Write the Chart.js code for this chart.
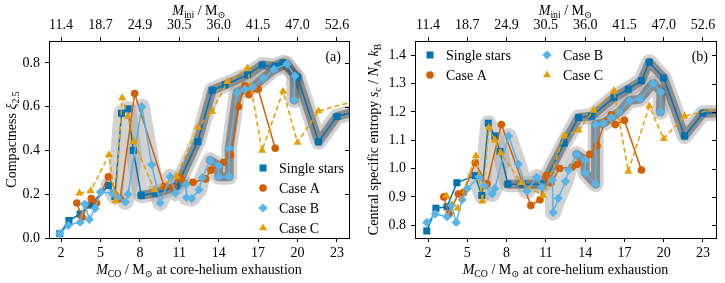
<!DOCTYPE html>
<html>
<head>
<meta charset="utf-8">
<script src="https://cdn.jsdelivr.net/npm/chart.js@4.4.1/dist/chart.umd.min.js"></script>
<style>
    html, body { margin: 0; padding: 0; background: #fff; }
    #wrap { position: relative; width: 725px; height: 283px; }
    .panel { position: absolute; top: 0; height: 283px; }
    #panelA { left: 0; width: 362px; }
    #panelB { left: 362px; width: 363px; }
</style>
</head>
<body>
<div id="wrap">
    <div class="panel" id="panelA"><canvas id="chartA"></canvas></div>
    <div class="panel" id="panelB"><canvas id="chartB"></canvas></div>
</div>
<script>
// bottom axis ticks (M_CO) and the initial masses shown on the top axis
const coTicks = [2, 5, 8, 11, 14, 17, 20, 23];
const iniTickLabels = ["11.4", "18.7", "24.9", "30.5", "36.0", "41.5", "47.0", "52.6"];

// Single stars
const singleCO = [1.9, 2.6, 3.45, 4.2, 5.6, 6.1, 6.6, 7.1, 7.5, 8.1, 9.2, 10.8, 12.4, 13.5, 14.5, 16.2, 17.3, 18.3, 18.9, 20.0, 21.6, 23.0, 25.0];
const singleXi = [0.02, 0.08, 0.11, 0.15, 0.24, 0.19, 0.57, 0.59, 0.40, 0.195, 0.205, 0.235, 0.44, 0.675, 0.70, 0.745, 0.79, 0.785, 0.80, 0.735, 0.44, 0.555, 0.588];
const singleS = [0.78, 0.86, 0.865, 0.95, 0.975, 0.905, 1.16, 1.115, 1.06, 0.945, 0.945, 0.945, 1.09, 1.18, 1.185, 1.25, 1.28, 1.31, 1.375, 1.32, 1.115, 1.195, 1.197];

// Case A
const caseACO = [3.2, 3.6, 4.3, 4.7, 5.6, 6.5, 7.6, 9.85, 10.55, 11.05, 11.4, 12.05, 13.0, 13.4, 14.35, 14.9, 15.5, 16.0, 16.3, 17.0, 18.3];
const caseAXi = [0.16, 0.095, 0.18, 0.16, 0.28, 0.18, 0.66, 0.235, 0.23, 0.275, 0.25, 0.255, 0.27, 0.31, 0.345, 0.38, 0.60, 0.695, 0.655, 0.68, 0.41];
const caseAS = [0.9, 0.84, 0.91, 0.915, 1.02, 0.945, 1.155, 0.87, 0.89, 0.975, 0.95, 1.0, 1.005, 1.015, 1.05, 1.08, 1.165, 1.19, 1.155, 1.17, 0.995];

// Case B
const caseBCO = [1.9, 2.55, 3.45, 3.8, 4.15, 4.6, 5.0, 5.9, 6.3, 6.9, 7.1, 8.15, 8.9, 9.55, 10.3, 10.7, 11.5, 11.55, 11.95, 12.5, 12.75, 13.35, 14.0, 14.0, 14.8, 14.8, 15.4, 16.0, 16.6, 17.4, 18.2, 19.2, 19.8, 19.75];
const caseBXi = [0.02, 0.058, 0.072, 0.155, 0.085, 0.135, 0.21, 0.205, 0.185, 0.165, 0.2, 0.60, 0.335, 0.16, 0.28, 0.205, 0.245, 0.185, 0.18, 0.22, 0.275, 0.355, 0.33, 0.28, 0.28, 0.41, 0.665, 0.68, 0.69, 0.73, 0.77, 0.795, 0.74, 0.63];
const caseBS = [0.81, 0.84, 0.83, 0.87, 0.81, 0.89, 0.93, 0.97, 0.94, 0.91, 0.93, 1.115, 1.015, 0.92, 0.97, 0.935, 0.96, 0.845, 0.895, 0.955, 0.995, 1.05, 1.03, 0.985, 0.945, 1.155, 1.16, 1.18, 1.2, 1.24, 1.245, 1.30, 1.27, 1.20];

// Case C
const caseCCO = [3.4, 4.25, 5.65, 6.15, 6.65, 7.1, 7.55, 9.1, 10.8, 12.4, 13.5, 14.65, 16.2, 17.3, 18.9, 20.0, 21.6, 25.0];
const caseCXi = [0.205, 0.215, 0.38, 0.17, 0.64, 0.555, 0.44, 0.22, 0.28, 0.505, 0.578, 0.714, 0.776, 0.40, 0.67, 0.436, 0.58, 0.636];
const caseCS = [0.905, 0.86, 1.045, 0.885, 1.145, 1.1, 1.055, 0.95, 0.905, 1.115, 1.135, 1.205, 1.275, 0.99, 1.22, 1.105, 1.185, 1.222];

const COLORS = {
    single: "#0173B2",
    caseA: "#D55E00",
    caseB: "#56B4E9",
    caseC: "#E69F00"
};

const SERIF = "'Liberation Serif', 'DejaVu Serif', serif";
const FONT_SIZE = 14;

function toPoints(xs, ys) {
    return xs.map((x, i) => ({ x: x, y: ys[i] }));
}

function series(label, xs, ys, color, style, radius, dashed, order) {
    return {
        label: label,
        data: toPoints(xs, ys),
        borderColor: color,
        backgroundColor: color,
        borderWidth: 1.5,
        borderDash: dashed ? [5, 3] : [],
        pointStyle: style,
        pointRadius: radius,
        pointBorderWidth: 0,
        pointBackgroundColor: color,
        tension: 0,
        order: order,
        clip: { left: 8, top: 8, right: 0, bottom: 8 }
    };
}

function shadow(xs, ys, from, color, width, order) {
    return {
        label: "",
        data: toPoints(xs.slice(from), ys.slice(from)),
        borderColor: color,
        borderWidth: width,
        borderJoinStyle: "round",
        borderCapStyle: "round",
        pointRadius: 0,
        tension: 0,
        order: order,
        clip: 0
    };
}

function buildDatasets(ySingle, yA, yB, yC) {
    return [
        shadow(singleCO, ySingle, 4, "rgba(160,160,160,0.48)", 16, 20),
        shadow(caseBCO, yB, 9, "rgba(160,160,160,0.48)", 16, 19),
        shadow(singleCO, ySingle, 9, "rgba(70,70,70,0.5)", 9, 18),
        shadow(caseBCO, yB, 21, "rgba(70,70,70,0.5)", 9, 17),
        series("Single stars", singleCO, ySingle, COLORS.single, "rect", 5, false, 4),
        series("Case A", caseACO, yA, COLORS.caseA, "circle", 3.8, false, 3),
        series("Case B", caseBCO, yB, COLORS.caseB, "rectRot", 4.6, false, 2),
        series("Case C", caseCCO, yC, COLORS.caseC, "triangle", 4.6, true, 1)
    ];
}

const LEGEND_ITEMS = [
    { label: "Single stars", color: COLORS.single, style: "rect" },
    { label: "Case A", color: COLORS.caseA, style: "circle" },
    { label: "Case B", color: COLORS.caseB, style: "rectRot" },
    { label: "Case C", color: COLORS.caseC, style: "triangle" }
];

function drawMarker(ctx, style, x, y, color) {
    ctx.save();
    ctx.fillStyle = color;
    ctx.beginPath();
    if (style === "rect") {
        ctx.rect(x - 3.5, y - 3.5, 7, 7);
    } else if (style === "circle") {
        ctx.arc(x, y, 3.8, 0, Math.PI * 2);
    } else if (style === "rectRot") {
        ctx.moveTo(x, y - 4.6);
        ctx.lineTo(x + 4.6, y);
        ctx.lineTo(x, y + 4.6);
        ctx.lineTo(x - 4.6, y);
        ctx.closePath();
    } else {
        ctx.moveTo(x, y - 4.6);
        ctx.lineTo(x + 4.0, y + 2.3);
        ctx.lineTo(x - 4.0, y + 2.3);
        ctx.closePath();
    }
    ctx.fill();
    ctx.restore();
}

function fontFor(part, size) {
    const s = part.sub ? size * 0.7 : size;
    return (part.it ? "italic " : "") + s + "px " + SERIF;
}

function drawRich(ctx, parts, x, y, size, angle) {
    ctx.save();
    ctx.translate(x, y);
    ctx.rotate(angle || 0);
    ctx.fillStyle = "#000";
    ctx.textBaseline = "alphabetic";
    ctx.textAlign = "left";
    let total = 0;
    parts.forEach(p => {
        ctx.font = fontFor(p, size);
        total += ctx.measureText(p.t).width;
    });
    let cx = -total / 2;
    parts.forEach(p => {
        ctx.font = fontFor(p, size);
        const dy = p.sub ? size * 0.22 : 0;
        ctx.fillText(p.t, cx, size * 0.35 + dy);
        cx += ctx.measureText(p.t).width;
    });
    ctx.restore();
}

const bottomTitle = [
    { t: "M", it: true }, { t: "CO", sub: true }, { t: " / M" }, { t: "\u2299", sub: true },
    { t: " at core-helium exhaustion" }
];
const topTitle = [
    { t: "M", it: true }, { t: "ini", sub: true }, { t: " / M" }, { t: "\u2299", sub: true }
];

function decorPlugin(conf) {
    return {
        id: "decor",
        afterDraw(chart) {
            const ctx = chart.ctx;
            const area = chart.chartArea;
            const yScale = chart.scales.y;

            // inward ticks on the right frame
            ctx.save();
            ctx.strokeStyle = "#000";
            ctx.lineWidth = 1;
            yScale.ticks.forEach(t => {
                const py = Math.round(yScale.getPixelForValue(t.value)) + 0.5;
                ctx.beginPath();
                ctx.moveTo(area.right - 4, py);
                ctx.lineTo(area.right, py);
                ctx.stroke();
            });
            ctx.restore();

            const midX = (area.left + area.right) / 2;
            const midY = (area.top + area.bottom) / 2;
            drawRich(ctx, bottomTitle, midX, area.bottom + 31, FONT_SIZE);
            drawRich(ctx, topTitle, midX, 10, FONT_SIZE);
            drawRich(ctx, conf.yTitle, conf.yTitleX, midY, FONT_SIZE, -Math.PI / 2);

            // panel label
            ctx.save();
            ctx.fillStyle = "#000";
            ctx.font = FONT_SIZE + "px " + SERIF;
            ctx.textAlign = "right";
            ctx.textBaseline = "middle";
            ctx.fillText(conf.panel, area.right - 8, area.top + 16);
            ctx.restore();

            // legend
            ctx.save();
            ctx.font = FONT_SIZE + "px " + SERIF;
            ctx.textBaseline = "middle";
            ctx.textAlign = "left";
            LEGEND_ITEMS.forEach((item, i) => {
                const pos = conf.legendPos(area, i);
                drawMarker(ctx, item.style, pos.x, pos.y, item.color);
                ctx.fillStyle = "#000";
                ctx.fillText(item.label, pos.x + 16, pos.y + 1);
            });
            ctx.restore();
        }
    };
}

function makeChart(canvasId, conf) {
    const tickFont = { family: SERIF, size: FONT_SIZE };

    const xCommon = {
        type: "linear",
        min: conf.xMin,
        max: conf.xMax,
        afterBuildTicks: scale => {
            scale.ticks = coTicks.map(v => ({ value: v }));
        },
        grid: { drawOnChartArea: false, tickLength: 4, tickColor: "#000", tickWidth: 1 },
        border: { color: "#000", width: 1 }
    };

    return new Chart(document.getElementById(canvasId), {
        type: "line",
        data: { datasets: conf.datasets },
        options: {
            responsive: true,
            maintainAspectRatio: false,
            animation: false,
            layout: { padding: 0 },
            plugins: {
                legend: { display: false },
                tooltip: { enabled: false }
            },
            scales: {
                x: Object.assign({}, xCommon, {
                    position: "bottom",
                    afterFit: scale => { scale.height = 45; },
                    ticks: {
                        font: tickFont, color: "#000", padding: 3, maxRotation: 0,
                        callback: value => String(value)
                    }
                }),
                xTop: Object.assign({}, xCommon, {
                    position: "top",
                    afterFit: scale => { scale.height = 41; },
                    ticks: {
                        font: tickFont, color: "#000", padding: 3, maxRotation: 0,
                        callback: (value, index) => iniTickLabels[index]
                    }
                }),
                y: {
                    type: "linear",
                    position: "left",
                    min: conf.yMin,
                    max: conf.yMax,
                    afterFit: scale => { scale.width = conf.leftWidth; },
                    ticks: {
                        stepSize: conf.yStep,
                        includeBounds: false,
                        font: tickFont,
                        color: "#000",
                        padding: 5,
                        callback: value => Number(value).toFixed(1)
                    },
                    grid: { drawOnChartArea: false, tickLength: 4, tickColor: "#000", tickWidth: 1 },
                    border: { color: "#000", width: 1 }
                },
                yRight: {
                    type: "linear",
                    position: "right",
                    min: conf.yMin,
                    max: conf.yMax,
                    afterFit: scale => { scale.width = conf.rightWidth; },
                    ticks: { display: false },
                    grid: { drawOnChartArea: false, drawTicks: false },
                    border: { color: "#000", width: 1 }
                }
            }
        },
        plugins: [decorPlugin(conf)]
    });
}

makeChart("chartA", {
    datasets: buildDatasets(singleXi, caseAXi, caseBXi, caseCXi),
    xMin: 1.08, xMax: 23.92,
    yMin: 0, yMax: 0.9, yStep: 0.2,
    leftWidth: 49, rightWidth: 13,
    panel: "(a)",
    yTitle: [{ t: "Compactness " }, { t: "\u03BE", it: true }, { t: "2.5", sub: true }],
    yTitleX: 11,
    legendPos: (area, i) => ({ x: area.right - 86, y: area.bottom - 70 + i * 20 })
});

makeChart("chartB", {
    datasets: buildDatasets(singleS, caseAS, caseBS, caseCS),
    xMin: 1.0, xMax: 24.0,
    yMin: 0.755, yMax: 1.45, yStep: 0.1,
    leftWidth: 53, rightWidth: 9,
    panel: "(b)",
    yTitle: [
        { t: "Central specific entropy " }, { t: "s", it: true }, { t: "c", sub: true },
        { t: " / " }, { t: "N", it: true }, { t: "A", sub: true }, { t: " " },
        { t: "k", it: true }, { t: "B", sub: true }
    ],
    yTitleX: 11,
    legendPos: (area, i) => ({
        x: area.left + 15 + (i >= 2 ? 117 : 0),
        y: area.top + 14 + (i % 2) * 20
    })
});
</script>
</body>
</html>
